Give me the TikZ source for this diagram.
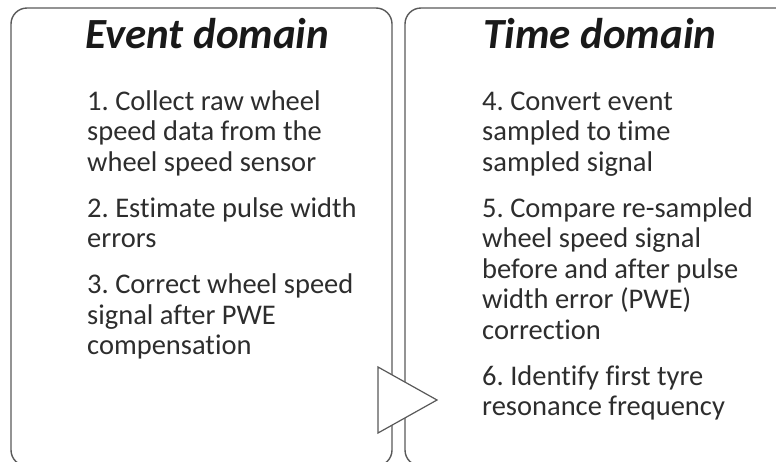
\documentclass[tikz,border=0pt]{standalone}
\usepackage{fontspec}
\setmainfont{Carlito}[Ligatures={NoCommon}]
\frenchspacing
\definecolor{boxline}{RGB}{89,89,89}
\definecolor{bodytext}{RGB}{45,45,45}
\tikzset{
  domainbox/.style={draw=boxline, line width=1.4pt, rounded corners=16pt},
  titletext/.style={anchor=base west, inner sep=0pt, text=black!90, font=\fontsize{43}{47}\selectfont\bfseries\itshape},
  bodyline/.style={anchor=base west, inner sep=0pt, text=bodytext, font=\fontsize{28.5}{31}\selectfont},
  arrowtri/.style={draw=boxline, fill=white, line width=1.2pt, line join=miter}
}
\begin{document}
\begin{tikzpicture}[x=1pt, y=-1pt]
\useasboundingbox (0,0) rectangle (776,461);
\begin{scope}
\clip (0,0) rectangle (776,461);
\draw[domainbox] (11,8) rectangle (392,466);
\draw[domainbox] (405,8) rectangle (792,466);
\end{scope}
\coordinate (ta) at (378,367);
\coordinate (tb) at (378,433);
\coordinate (tc) at (437,400);
\draw[arrowtri] (ta) -- (tc) -- (tb) -- cycle;

\node[titletext] (evtitle) at (85,48) {Event domain};
\node[titletext] (tmtitle) at (483,48) {Time domain};

\node[bodyline] (l1) at (87,110) {1. Collect raw wheel};
\node[bodyline] (l2) at (87,140.5) {speed data from the};
\node[bodyline] (l3) at (87,171) {wheel speed sensor};
\node[bodyline] (l4) at (87,217) {2. Estimate pulse width};
\node[bodyline] (l5) at (87,247.5) {errors};
\node[bodyline] (l6) at (87,293.5) {3. Correct wheel speed};
\node[bodyline] (l7) at (87,324) {signal after PWE};
\node[bodyline] (l8) at (87,354.5) {compensation};

\node[bodyline] (r1) at (482,110) {4. Convert event};
\node[bodyline] (r2) at (482,140.5) {sampled to time};
\node[bodyline] (r3) at (482,171) {sampled signal};
\node[bodyline] (r4) at (482,217) {5. Compare re-sampled};
\node[bodyline] (r5) at (482,247.5) {wheel speed signal};
\node[bodyline] (r6) at (482,278) {before and after pulse};
\node[bodyline] (r7) at (482,308.5) {width error (PWE)};
\node[bodyline] (r8) at (482,339) {correction};
\node[bodyline] (r9) at (482,385) {6. Identify first tyre};
\node[bodyline] (r10) at (482,415.5) {resonance frequency};
\end{tikzpicture}
\end{document}
